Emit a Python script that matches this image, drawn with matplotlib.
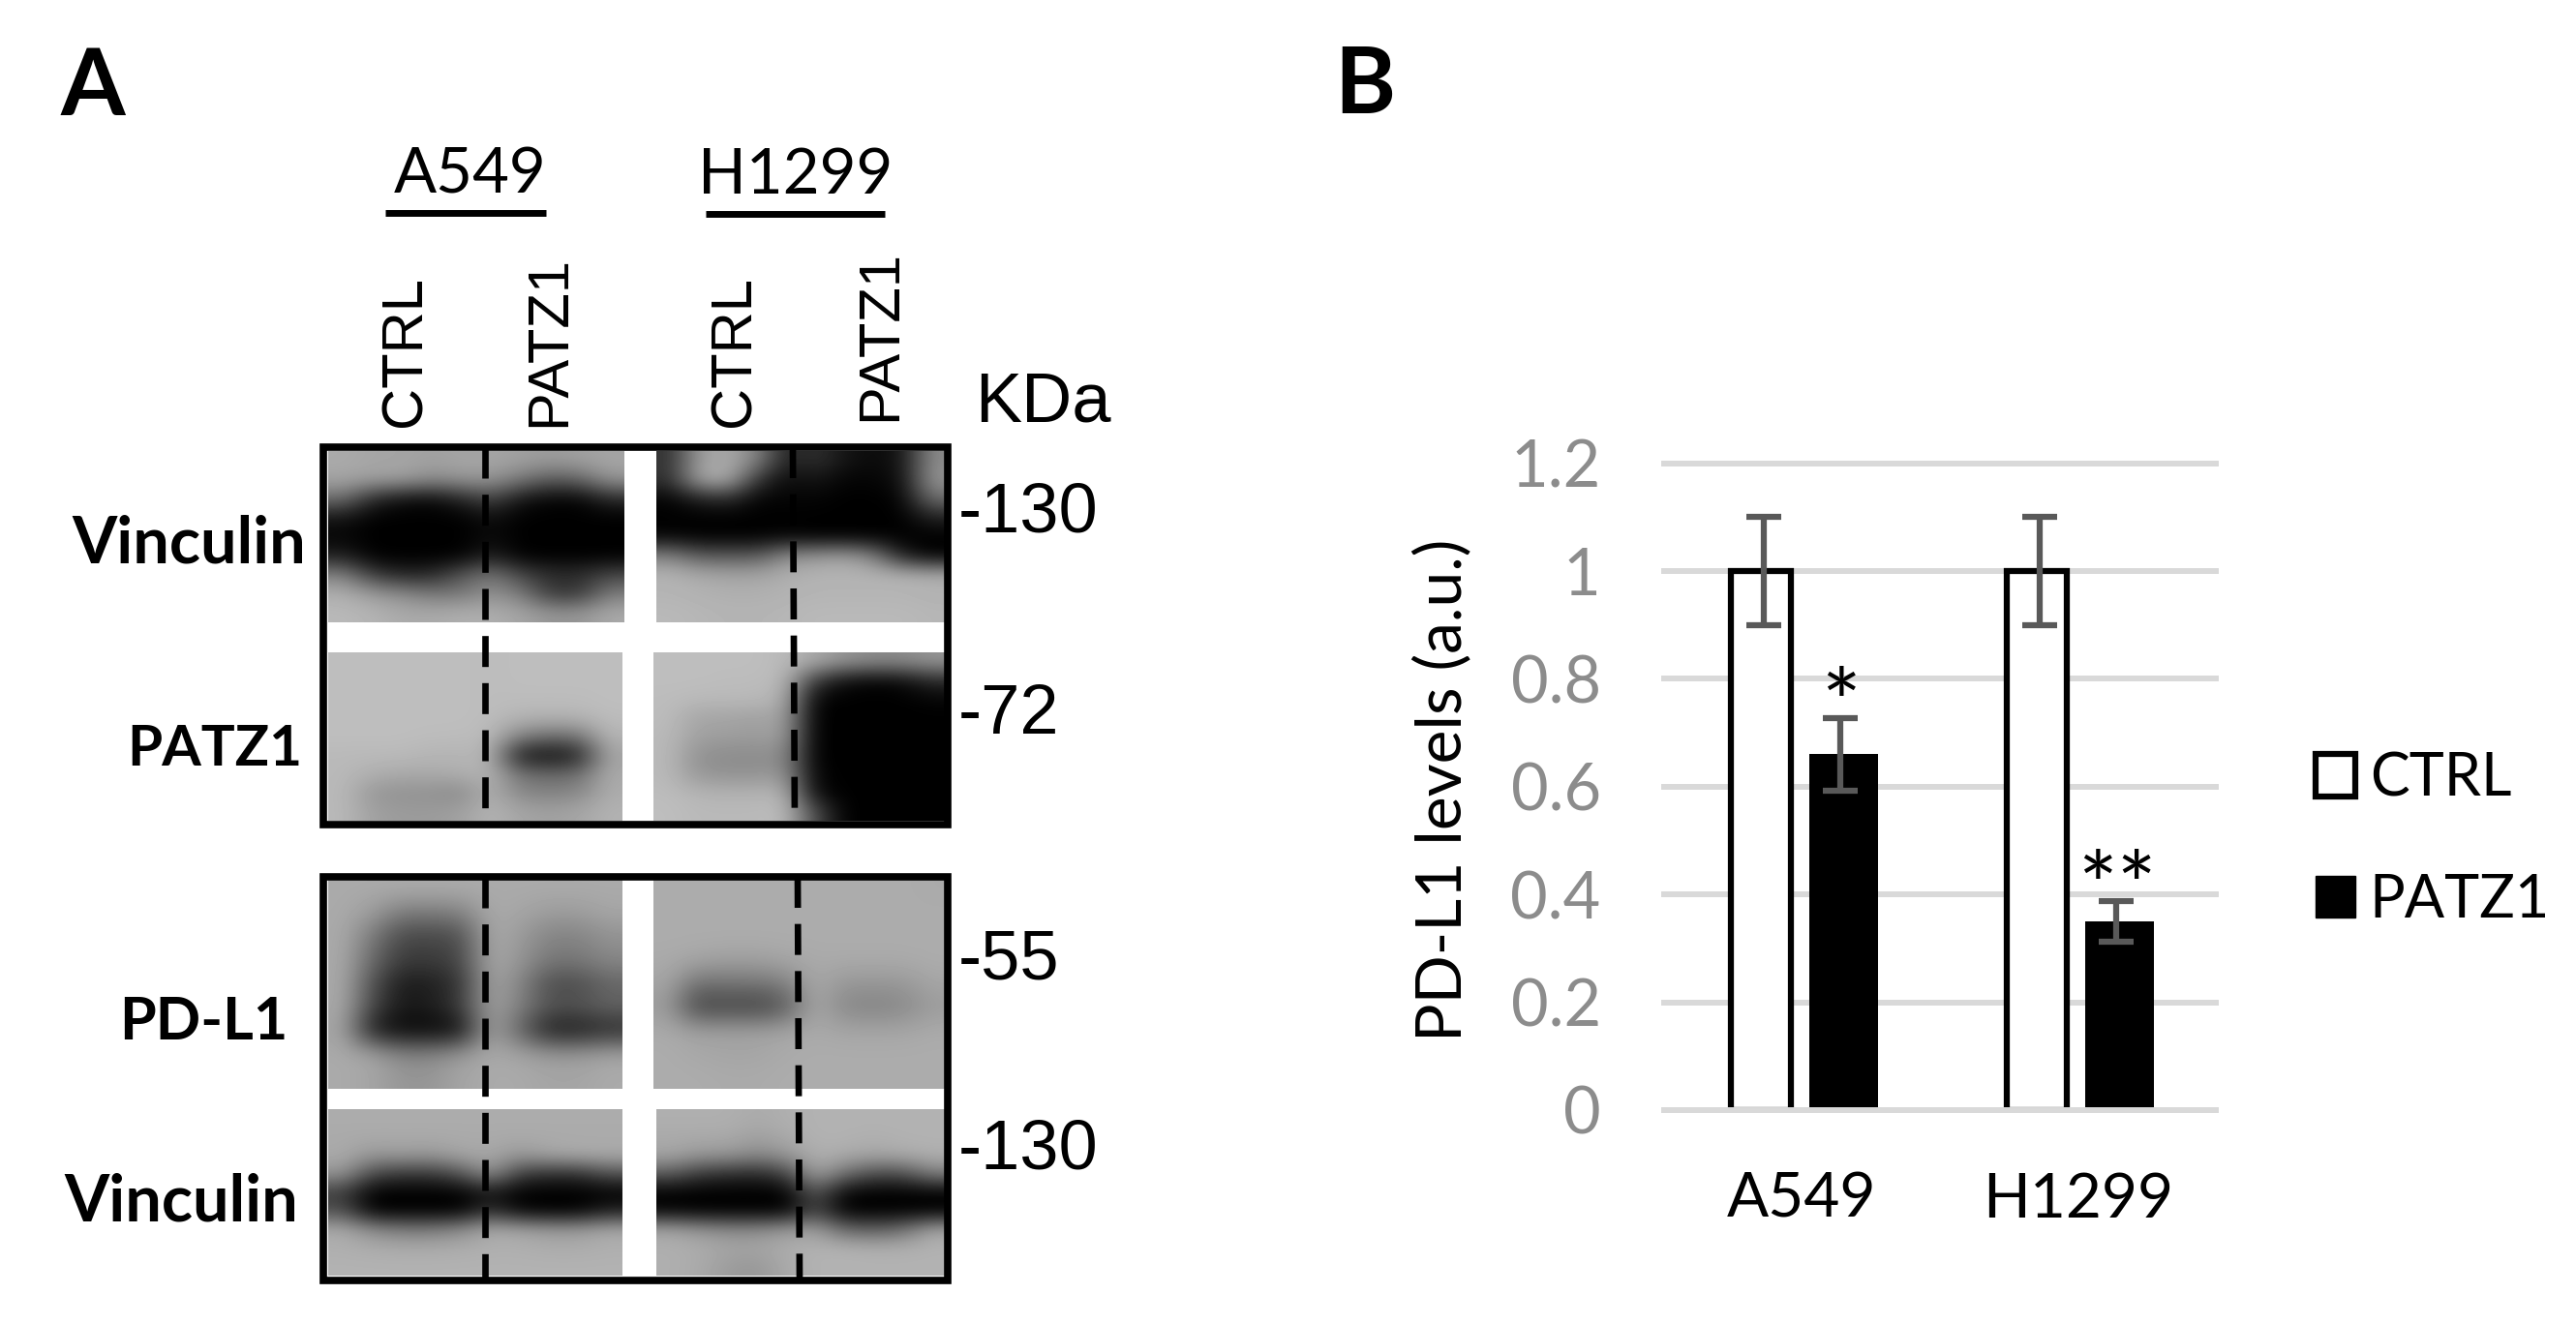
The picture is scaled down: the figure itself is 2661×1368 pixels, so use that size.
# PATZ1 / PD-L1 figure: western blot panel (A) and bar chart of PD-L1 levels (B).

import numpy as np
import matplotlib
matplotlib.use('Agg')
import matplotlib.pyplot as plt
from matplotlib.patches import Patch, Rectangle

# Bar chart data.
cell_lines = ['A549', 'H1299']
ctrl_values = [1.0, 1.0]
ctrl_errors = [0.10, 0.10]
patz1_values = [0.66, 0.35]
patz1_errors = [0.067, 0.038]
significance = ['*', '**']
y_ticks = [0, 0.2, 0.4, 0.6, 0.8, 1, 1.2]
y_tick_labels = ['0', '0.2', '0.4', '0.6', '0.8', '1', '1.2']

# Blot densities (grey levels, coarse grid per gel piece).
vinculin_top_left = [
    [170, 165, 165, 160, 165, 165, 160, 155, 160, 165],
    [165, 160, 160, 140, 150, 150, 120, 90, 100, 150],
    [110, 40, 15, 10, 35, 70, 20, 5, 5, 40],
    [20, 0, 0, 0, 0, 15, 0, 0, 0, 0],
    [5, 0, 0, 0, 0, 10, 0, 0, 0, 0],
    [30, 0, 0, 0, 0, 30, 0, 0, 0, 0],
    [130, 60, 35, 40, 85, 120, 70, 45, 45, 70],
    [175, 155, 140, 120, 120, 145, 125, 55, 55, 125],
    [185, 180, 170, 170, 175, 175, 165, 150, 150, 170],
]
vinculin_top_right = [
    [50, 160, 170, 130, 30, 50, 20, 10, 20, 140],
    [50, 170, 175, 50, 10, 20, 5, 5, 15, 150],
    [5, 30, 40, 5, 5, 5, 0, 0, 5, 110],
    [0, 0, 0, 0, 0, 0, 0, 0, 0, 30],
    [5, 0, 0, 0, 5, 0, 0, 0, 0, 0],
    [130, 90, 90, 90, 140, 150, 160, 130, 30, 0],
    [180, 170, 165, 165, 175, 180, 180, 180, 180, 175],
    [180, 178, 175, 175, 178, 180, 180, 180, 180, 178],
    [185, 182, 180, 180, 182, 185, 185, 185, 185, 182],
]
patz1_left = [
    [190, 190, 190, 190, 190, 188, 190, 190, 190, 190],
    [190, 190, 190, 190, 190, 188, 190, 190, 190, 190],
    [190, 190, 190, 190, 190, 188, 188, 188, 188, 190],
    [190, 190, 190, 190, 190, 188, 180, 178, 180, 188],
    [190, 190, 190, 188, 188, 185, 130, 110, 115, 180],
    [185, 185, 185, 180, 180, 180, 25, 15, 30, 165],
    [185, 175, 170, 170, 175, 180, 115, 105, 110, 170],
    [185, 150, 145, 145, 135, 178, 135, 130, 135, 172],
    [185, 160, 155, 155, 160, 180, 165, 160, 165, 178],
]
patz1_right = [
    [190, 190, 190, 190, 185, 170, 150, 140, 140, 150],
    [190, 190, 188, 188, 185, 60, 15, 5, 10, 40],
    [188, 185, 185, 185, 175, 5, 0, 0, 0, 5],
    [188, 165, 165, 160, 165, 0, 0, 0, 0, 0],
    [185, 160, 158, 155, 160, 0, 0, 0, 0, 0],
    [185, 145, 140, 140, 140, 0, 0, 0, 0, 0],
    [185, 150, 145, 145, 150, 5, 0, 0, 0, 0],
    [188, 180, 178, 178, 180, 10, 0, 0, 0, 0],
    [190, 185, 185, 185, 188, 80, 0, 0, 0, 0],
]
pdl1_left = [
    [170, 170, 170, 170, 170, 170, 170, 170, 170, 170],
    [170, 155, 120, 120, 125, 170, 165, 155, 155, 165],
    [170, 120, 70, 70, 75, 170, 155, 130, 130, 145],
    [170, 105, 60, 60, 70, 170, 150, 120, 120, 135],
    [170, 80, 25, 30, 50, 165, 135, 75, 75, 100],
    [170, 70, 25, 30, 60, 165, 130, 85, 85, 100],
    [165, 25, 5, 5, 10, 165, 100, 25, 25, 40],
    [170, 165, 135, 135, 155, 170, 165, 155, 155, 165],
    [170, 165, 150, 150, 165, 170, 170, 165, 165, 170],
]
pdl1_right = [
    [172, 172, 172, 172, 172, 172, 172, 172, 172, 170],
    [172, 172, 172, 172, 172, 172, 172, 172, 172, 172],
    [172, 172, 172, 172, 172, 172, 172, 172, 172, 172],
    [170, 165, 160, 160, 165, 170, 170, 170, 170, 172],
    [165, 110, 115, 115, 125, 170, 150, 150, 150, 165],
    [155, 65, 70, 65, 85, 170, 135, 130, 135, 155],
    [170, 160, 160, 160, 165, 170, 165, 165, 165, 170],
    [172, 168, 165, 165, 170, 172, 172, 172, 172, 172],
    [172, 172, 170, 170, 172, 172, 172, 172, 172, 172],
]
vinculin_low_left = [
    [172, 172, 172, 172, 172, 172, 172, 172, 172, 172],
    [170, 170, 170, 170, 170, 170, 170, 170, 170, 170],
    [170, 150, 155, 150, 165, 168, 150, 165, 170, 170],
    [150, 70, 55, 55, 80, 150, 60, 45, 45, 80],
    [60, 0, 0, 0, 0, 20, 0, 0, 0, 0],
    [80, 0, 0, 0, 0, 50, 5, 0, 0, 30],
    [170, 140, 125, 125, 140, 170, 165, 155, 155, 168],
    [175, 172, 170, 170, 172, 175, 175, 172, 172, 175],
    [178, 178, 178, 178, 178, 178, 178, 178, 178, 178],
]
vinculin_low_right = [
    [175, 175, 175, 170, 175, 178, 178, 178, 178, 178],
    [170, 170, 170, 160, 170, 178, 178, 175, 178, 178],
    [165, 150, 150, 135, 150, 175, 170, 165, 170, 175],
    [90, 55, 45, 40, 65, 165, 110, 75, 75, 125],
    [0, 0, 0, 0, 0, 90, 5, 0, 0, 0],
    [5, 0, 0, 0, 0, 70, 0, 0, 0, 0],
    [165, 150, 140, 140, 155, 160, 105, 95, 110, 165],
    [175, 172, 165, 165, 172, 178, 178, 175, 175, 178],
    [175, 170, 155, 150, 170, 178, 178, 178, 178, 178],
]

FONT = 'Lato'
ARIAL = 'Liberation Sans'

fig = plt.figure(figsize=(26.61, 13.68), dpi=100)

# Panel A is laid out on a full figure axes in pixels.
ax_a = fig.add_axes([0, 0, 1, 1])

gel_pieces = [
    (vinculin_top_left, 339, 645, 466, 643),
    (vinculin_top_right, 678, 977, 466, 643),
    (patz1_left, 339, 643, 674, 848),
    (patz1_right, 675, 977, 674, 848),
    (pdl1_left, 339, 643, 908, 1125),
    (pdl1_right, 675, 977, 908, 1125),
    (vinculin_low_left, 339, 643, 1146, 1318),
    (vinculin_low_right, 678, 977, 1146, 1318),
]
for grid, x0, x1, y0, y1 in gel_pieces:
    ax_a.imshow(np.array(grid), cmap='gray', vmin=0, vmax=255, aspect='auto',
                interpolation='bicubic', extent=(x0, x1, y1, y0))

ax_a.set_xlim(0, 2661)
ax_a.set_ylim(1368, 0)
ax_a.axis('off')

# Frames around the two blots.
ax_a.add_patch(Rectangle((334, 462), 645, 390, fill=False, ec='black', lw=5.5))
ax_a.add_patch(Rectangle((334, 906), 645, 417, fill=False, ec='black', lw=5.5))

# Dashed lane separators.
dash = (0, (4.8, 2.5))
ax_a.plot([501, 501], [462, 852], color='black', lw=4.8, ls=dash)
ax_a.plot([819, 821], [462, 852], color='black', lw=4.8, ls=dash)
ax_a.plot([501, 501], [906, 1323], color='black', lw=4.8, ls=dash)
ax_a.plot([824, 826], [906, 1323], color='black', lw=4.8, ls=dash)

# Cell line headers with underlines.
ax_a.text(486, 181, 'A549', font=FONT, fontsize=47, ha='center', va='center')
ax_a.text(822, 181, 'H1299', font=FONT, fontsize=47, ha='center', va='center')
ax_a.plot([398, 564], [220, 220], color='black', lw=5, solid_capstyle='butt')
ax_a.plot([729, 914], [221, 221], color='black', lw=5, solid_capstyle='butt')

# Lane labels.
for x, y, label in [(419, 441, 'CTRL'), (568, 441, 'PATZ1'),
                    (759, 441, 'CTRL'), (910, 435, 'PATZ1')]:
    ax_a.text(x, y, label, family=ARIAL, fontsize=43, rotation=90,
              ha='center', va='bottom')

# Marker sizes.
ax_a.text(1007, 435, 'KDa', family=ARIAL, fontsize=52, ha='left', va='baseline')
for y, label in [(550, '-130'), (758, '-72'), (1011, '-55'), (1208, '-130')]:
    ax_a.text(990, y, label, family=ARIAL, fontsize=52, ha='left', va='baseline')

# Protein names.
for x, y, label, size in [(316, 582, 'Vinculin', 48), (312, 791, 'PATZ1', 42),
                          (298, 1074, 'PD-L1', 44), (308, 1262, 'Vinculin', 48)]:
    ax_a.text(x, y, label, font=FONT, fontweight='bold', fontsize=size,
              ha='right', va='baseline')

# Panel letters.
ax_a.text(63, 119, 'A', font=FONT, fontweight='bold', fontsize=69, ha='left', va='baseline')
ax_a.text(1378, 117, 'B', font=FONT, fontweight='bold', fontsize=69, ha='left', va='baseline')

# Panel B, the bar chart.
ax_b = fig.add_axes([1719 / 2661, 1 - 1147 / 1368, 570 / 2661, 668.4 / 1368])
ax_b.patch.set_alpha(0)
x = np.arange(len(cell_lines))
offset = 0.15

err_style = dict(ecolor='#595959', elinewidth=4.5, capsize=13, capthick=4.5)
ax_b.bar(x - offset, ctrl_values, width=0.218, color='white', edgecolor='black',
         linewidth=4.5, zorder=3)
ax_b.bar(x + offset, patz1_values, width=0.25, color='black', zorder=3)
ax_b.errorbar(x - offset + 0.01, ctrl_values, yerr=ctrl_errors, fmt='none', zorder=4, **err_style)
ax_b.errorbar(x + offset - 0.01, patz1_values, yerr=patz1_errors, fmt='none', zorder=4, **err_style)

ax_b.set_xlim(-0.5, 1.5)
ax_b.set_ylim(0, 1.2)

for tick in y_ticks:
    ax_b.axhline(tick, color='#d9d9d9', lw=4.3, clip_on=False, zorder=5 if tick == 0 else 1)

for side in ['top', 'right', 'left', 'bottom']:
    ax_b.spines[side].set_visible(False)

ax_b.set_yticks(y_ticks)
ax_b.set_yticklabels(y_tick_labels, font=FONT, fontsize=48, color='#8c8c8c')
ax_b.set_xticks(x)
ax_b.set_xticklabels(cell_lines, font=FONT, fontsize=46, color='black')
ax_b.tick_params(axis='y', length=0, pad=47)
ax_b.tick_params(axis='x', length=0, pad=46)

ax_b.set_ylabel('PD-L1 levels (a.u.)', font=FONT, fontsize=47.5)
ax_b.yaxis.set_label_coords(-0.349, 0.495)

# Significance stars sit just above the PATZ1 error bars.
for i, stars in enumerate(significance):
    ax_b.text(x[i] + offset - 0.01, patz1_values[i] + patz1_errors[i] - 0.065, stars,
              font=FONT, fontsize=69, ha='center', va='bottom')

handles = [Patch(facecolor='white', edgecolor='black', linewidth=4.5),
           Patch(facecolor='black', edgecolor='black', linewidth=1)]
ax_b.legend(handles, ['CTRL', 'PATZ1'], prop={'family': FONT, 'size': 44}, frameon=False,
            handlelength=0.68, handleheight=0.72, handletextpad=0.24, labelspacing=1.12,
            loc='center left', bbox_to_anchor=(1.18, 0.418), borderaxespad=0, borderpad=0)

plt.savefig('out.png', dpi=100)
